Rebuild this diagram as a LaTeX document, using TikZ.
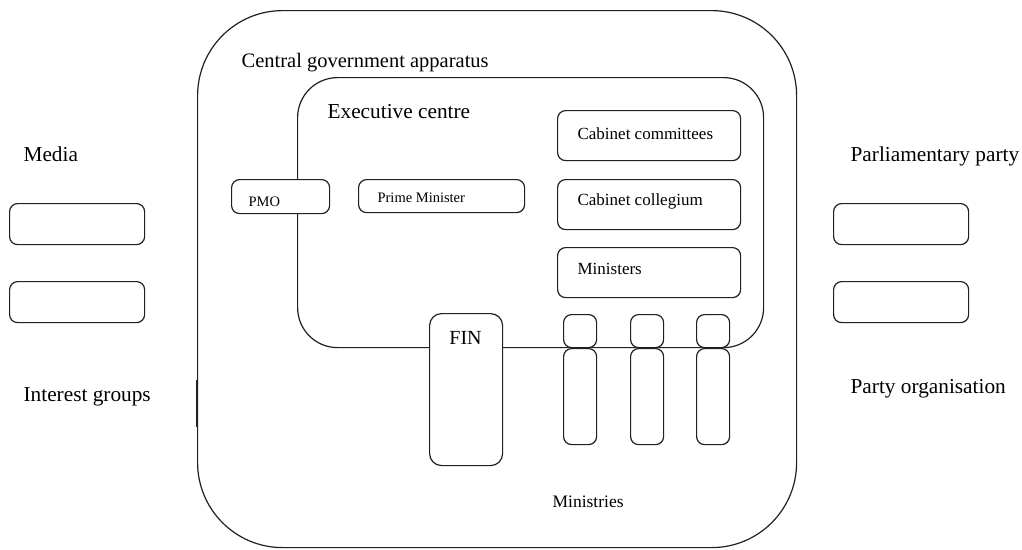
\documentclass[tikz,border=0pt]{standalone}
\usepackage{fontspec}
\setmainfont{Liberation Serif}
\begin{document}
\begin{tikzpicture}[x=1pt,y=-1pt,
  line width=1.2pt, draw={rgb,255:red,35;green,31;blue,32},
  rbox/.style={draw, rounded corners=8pt, fill=white, inner sep=0pt, anchor=north west},
  big/.style={font=\fontsize{21.3}{25}\selectfont, anchor=base west, inner sep=0pt},
  mid/.style={font=\fontsize{17}{20}\selectfont, anchor=base west, inner sep=0pt},
  small/.style={font=\fontsize{14.5}{17}\selectfont, anchor=base west, inner sep=0pt}]
\useasboundingbox (0,0) rectangle (1022,549);
% outer container
\node[draw, rounded corners=85pt, inner sep=0pt, anchor=north west,
      minimum width=599pt, minimum height=537pt] (outer) at (197,10) {};
\draw[line width=2.6pt] (197,380) -- (197,427);
% executive centre
\node[draw, rounded corners=40pt, inner sep=0pt, anchor=north west,
      minimum width=466pt, minimum height=270pt] (exec) at (297,77) {};
% labels
\node[big, font=\fontsize{20.5}{24}\selectfont] (lcentral) at (241,67) {Central government apparatus};
\node[big] (lexec) at (327,118) {Executive centre};
\node[big] (lmedia) at (23,161) {Media};
\node[big] (linterest) at (23,401) {Interest groups};
\node[big] (lparl) at (850,161) {Parliamentary party};
\node[big] (lpartyorg) at (850,393) {Party organisation};
% outside boxes
\node[rbox, minimum width=135pt, minimum height=41pt] (m1) at (9,203) {};
\node[rbox, minimum width=135pt, minimum height=41pt] (m2) at (9,281) {};
\node[rbox, minimum width=135pt, minimum height=41pt] (p1) at (833,203) {};
\node[rbox, minimum width=135pt, minimum height=41pt] (p2) at (833,281) {};
% PMO and PM
\node[rbox, minimum width=98pt, minimum height=34pt] (pmo) at (231,179) {};
\node[small] (tpmo) at (248,206) {PMO};
\node[rbox, minimum width=166pt, minimum height=33pt] (pm) at (358,179) {};
\node[small] (tpm) at (377,202) {Prime Minister};
% cabinet boxes
\node[rbox, minimum width=183pt, minimum height=50pt] (cc) at (557,110) {};
\node[mid] (tcc) at (577,139) {Cabinet committees};
\node[rbox, minimum width=183pt, minimum height=50pt] (cg) at (557,179) {};
\node[mid] (tcg) at (577,205) {Cabinet collegium};
\node[rbox, minimum width=183pt, minimum height=50pt] (mi) at (557,247) {};
\node[mid] (tmi) at (577,274) {Ministers};
% FIN
\node[rbox, rounded corners=12pt, minimum width=73pt, minimum height=152pt] (fin) at (429,313) {};
\node[font=\fontsize{20}{24}\selectfont, anchor=base, inner sep=0pt] (tfin) at (465.5,344) {FIN};
% ministries
\foreach \i/\x in {1/563,2/630,3/696}{
  \node[rbox, minimum width=33pt, minimum height=33pt] (s\i) at (\x,314) {};
  \node[rbox, minimum width=33pt, minimum height=96pt] (t\i) at (\x,348) {};
}
\node[mid, font=\fontsize{17.5}{20}\selectfont] (tmin) at (552,507) {Ministries};
\end{tikzpicture}
\end{document}
